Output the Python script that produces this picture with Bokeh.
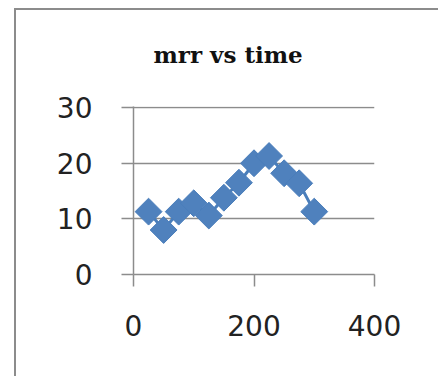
import math
from bokeh.plotting import figure
from bokeh.models import FixedTicker, Range1d, GlobalInlineStyleSheet
from bokeh.embed import file_html
from bokeh.resources import INLINE

time = [25, 50, 75, 100, 125, 150, 175, 200, 225, 250, 275, 300]
mrr = [11.3, 8.0, 11.3, 12.8, 10.6, 13.8, 16.5, 20.0, 21.3, 18.2, 16.4, 11.3]
x_ticks = [0, 200, 400]
y_ticks = [0, 10, 20, 30]
title_text = "mrr vs time"

p = figure(width=438, height=376, output_backend="svg", toolbar_location=None,
           x_range=Range1d(0, 400), y_range=Range1d(0, 30.2),
           min_border_left=133, min_border_right=64, min_border_top=106, min_border_bottom=102,
           title=title_text)

# grey chart-area edge on the left and top (the rest is cropped off in the original)
page_css = """
html, body { overflow: hidden; margin: 0; scrollbar-width: none; }
::-webkit-scrollbar { display: none; width: 0; height: 0; }
body::after {
  content: ""; position: fixed; left: 14px; top: 8px; right: -60px; bottom: -60px;
  border-left: 2.5px solid #8c8c8c; border-top: 2.5px solid #8c8c8c;
  pointer-events: none; z-index: 10;
}
"""
p.stylesheets = [GlobalInlineStyleSheet(css=page_css)]

p.title.text_font = "DejaVu Serif"
p.title.text_font_style = "bold"
p.title.text_font_size = "23px"
p.title.text_color = "#111111"
p.title.align = "left"
p.title.offset = 20
p.title.standoff = 77

p.outline_line_color = None
p.background_fill_color = "white"
p.border_fill_color = "white"

p.xgrid.grid_line_color = None
p.ygrid.grid_line_color = "#8c8c8c"
p.ygrid.grid_line_width = 1.5
p.ygrid.ticker = FixedTicker(ticks=y_ticks)

for ax in (p.xaxis[0], p.yaxis[0]):
    ax.axis_line_color = "#8c8c8c"
    ax.axis_line_width = 1.5
    ax.major_tick_line_color = "#8c8c8c"
    ax.major_tick_line_width = 1.5
    ax.major_tick_out = 12
    ax.major_tick_in = 0
    ax.minor_tick_line_color = None
    ax.major_label_text_font = "DejaVu Sans"
    ax.major_label_text_font_size = "28px"
    ax.major_label_text_color = "#222222"

p.xaxis.ticker = FixedTicker(ticks=x_ticks)
p.yaxis.ticker = FixedTicker(ticks=y_ticks)
p.xaxis.major_label_standoff = 28
p.yaxis.major_label_standoff = 29

p.line(time, mrr, line_color="#4A7EBB", line_width=3)
p.scatter(time, mrr, marker="square", angle=math.pi / 4, size=19,
          fill_color="#4F81BD", line_color="#4A7EBB", line_width=1)

open("out.html", "w").write(file_html(p, INLINE))
